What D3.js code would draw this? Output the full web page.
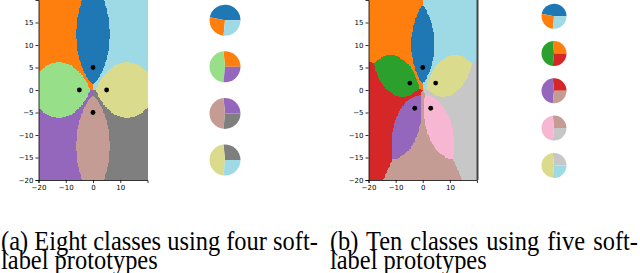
<!DOCTYPE html>
<html lang="en">
<head>
<meta charset="UTF-8">
<title>Soft-label prototype decision regions</title>
<script src="https://d3js.org/d3.v7.min.js"></script>
<style>
  body { margin: 0; background: #fff; }
  svg { display: block; }
  .axis text { font-family: "DejaVu Sans", sans-serif; font-size: 7px; fill: #000; }
  .axis path, .axis line { stroke: #000; stroke-width: 0.8; }
  .caption { font-family: "Liberation Serif", "Times New Roman", serif; font-size: 28px; fill: #000; }
</style>
</head>
<body>
<svg width="640" height="273"></svg>
<script>
    // panel (a): four prototypes, eight classes
    const protoXA = [0, -5, 0, 5];
    const protoYA = [5, 0, -5, 0];
    const colorsA = ["#1f77b4", "#ff7f0e", "#98df8a", "#9467bd", "#c49c94", "#7f7f7f", "#dbdb8d", "#9edae5"];
    const labelsA = [
        [0.47, 0.265, 0, 0, 0, 0, 0, 0.265],
        [0, 0.265, 0.47, 0.265, 0, 0, 0, 0],
        [0, 0, 0, 0.265, 0.47, 0.265, 0, 0],
        [0, 0, 0, 0, 0, 0.265, 0.47, 0.265]
    ];

    // panel (b): five prototypes, ten classes
    const protoXB = [0, -4.76, -2.94, 2.94, 4.76];
    const protoYB = [5, 1.55, -4.05, -4.05, 1.55];
    const colorsB = ["#1f77b4", "#ff7f0e", "#2ca02c", "#d62728", "#9467bd", "#c49c94", "#f7b6d2", "#c7c7c7", "#dbdb8d", "#9edae5"];
    const labelsB = [
        [0.47, 0.265, 0, 0, 0, 0, 0, 0, 0, 0.265],
        [0, 0.265, 0.47, 0.265, 0, 0, 0, 0, 0, 0],
        [0, 0, 0, 0.265, 0.47, 0.265, 0, 0, 0, 0],
        [0, 0, 0, 0, 0, 0.265, 0.47, 0.265, 0, 0],
        [0, 0, 0, 0, 0, 0, 0, 0.265, 0.47, 0.265]
    ];

    const xTicks = [-20, -10, 0, 10];
    const yTicks = [-20, -15, -10, -5, 0, 5, 10, 15];
    const domain = [-20, 20];

    const svg = d3.select("svg");

    // distance weighted soft-label vote, argmax class
    function classify(px, py, xs, ys, labels) {
        const nClass = labels[0].length;
        const score = new Array(nClass).fill(0);
        for (let i = 0; i < xs.length; i++) {
            const d = Math.max(1e-6, Math.hypot(px - xs[i], py - ys[i]));
            for (let c = 0; c < nClass; c++) score[c] += labels[i][c] / d;
        }
        return d3.maxIndex(score);
    }

    function drawPanel(cfg) {
        const x = d3.scaleLinear().domain(domain).range([cfg.left, cfg.right]);
        const y = d3.scaleLinear().domain(domain).range([cfg.bottom, cfg.top]);
        const g = svg.append("g");
        const regions = g.append("g").attr("shape-rendering", "crispEdges");

        // decision regions: one pixel row at a time, sampled on a 0.25 grid,
        // runs of the same class merged into one rect
        const h = 0.25;
        const n = Math.round((domain[1] - domain[0]) / h);
        for (let py = Math.round(cfg.top); py < cfg.bottom; py++) {
            const yc = Math.floor(y.invert(py + 0.5) / h) * h + h / 2;
            let start = 0;
            let cls = classify(domain[0] + h / 2, yc, cfg.xs, cfg.ys, cfg.labels);
            for (let i = 1; i <= n; i++) {
                const c = i < n ? classify(domain[0] + (i + 0.5) * h, yc, cfg.xs, cfg.ys, cfg.labels) : -1;
                if (c !== cls) {
                    const x0 = Math.round(x(domain[0] + start * h));
                    const x1 = Math.round(x(domain[0] + i * h));
                    if (x1 > x0) {
                        regions.append("rect")
                            .attr("x", x0).attr("y", py)
                            .attr("width", x1 - x0).attr("height", 1)
                            .attr("fill", cfg.colors[cls]);
                    }
                    start = i;
                    cls = c;
                }
            }
        }

        // prototypes
        g.selectAll("circle.proto")
            .data(cfg.xs.map((v, i) => [v, cfg.ys[i]]))
            .join("circle")
            .attr("class", "proto")
            .attr("cx", d => x(d[0]))
            .attr("cy", d => y(d[1]))
            .attr("r", 2.4)
            .attr("fill", "#000");

        g.append("g")
            .attr("class", "axis")
            .attr("transform", `translate(0,${cfg.bottom})`)
            .call(d3.axisBottom(x).tickValues(xTicks).tickSize(3).tickPadding(2));
        g.append("g")
            .attr("class", "axis")
            .attr("transform", `translate(${cfg.left},0)`)
            .call(d3.axisLeft(y).tickValues(yTicks).tickSize(3).tickPadding(2));
        if (cfg.rightSpine) {
            g.append("line")
                .attr("x1", cfg.right + 0.5).attr("x2", cfg.right + 0.5)
                .attr("y1", cfg.top).attr("y2", cfg.bottom)
                .attr("stroke", "#444").attr("stroke-width", 2);
        }

        // soft label pies, counterclockwise from 3 o'clock
        const pie = d3.pie().sort(null).value(d => d)
            .startAngle(Math.PI / 2).endAngle(Math.PI / 2 - 2 * Math.PI);
        const arc = d3.arc().innerRadius(0).outerRadius(cfg.pieR);
        cfg.labels.forEach((lab, k) => {
            const pg = g.append("g")
                .attr("transform", `translate(${cfg.pieX},${cfg.pieY0 + k * cfg.pieStep})`);
            pg.selectAll("path")
                .data(pie(lab).map((a, c) => ({ ...a, c })).filter(a => a.value > 0))
                .join("path")
                .attr("d", arc)
                .attr("fill", a => cfg.colors[a.c]);
        });
    }

    drawPanel({
        xs: protoXA, ys: protoYA, labels: labelsA, colors: colorsA,
        left: 38.5, right: 147.5, top: 0, bottom: 180,
        pieX: 225, pieY0: 20.2, pieStep: 46.6, pieR: 15.5, rightSpine: false
    });
    drawPanel({
        xs: protoXB, ys: protoYB, labels: labelsB, colors: colorsB,
        left: 368.5, right: 477, top: 0, bottom: 180,
        pieX: 554, pieY0: 16.2, pieStep: 37.3, pieR: 12.5, rightSpine: true
    });

    // captions: narrow typeface look, first lines justified to the column width
    function caption(x0, line1, line2) {
        const cap = svg.append("g").attr("class", "caption");
        const t1 = cap.append("text").attr("x", x0).attr("y", 250).text(line1);
        const t2 = cap.append("text").attr("x", x0).attr("y", 269).text(line2);
        return [t1, t2];
    }
    const [a1, a2] = caption(1, "(a) Eight classes using four soft-", "label prototypes");
    const [b1, b2] = caption(330, "(b) Ten classes using five soft-", "label prototypes");
    // squeeze horizontally so the (a) line fits its column
    const sx = 317 / a1.node().getComputedTextLength();
    [a1, a2, b1, b2].forEach(t => {
        const x0 = +t.attr("x");
        t.attr("transform", `translate(${x0},0) scale(${sx},1) translate(${-x0},0)`);
    });
    const nb = b1.node().getComputedTextLength();
    b1.style("word-spacing", ((308 / sx - nb) / 5) + "px");
</script>
</body>
</html>
